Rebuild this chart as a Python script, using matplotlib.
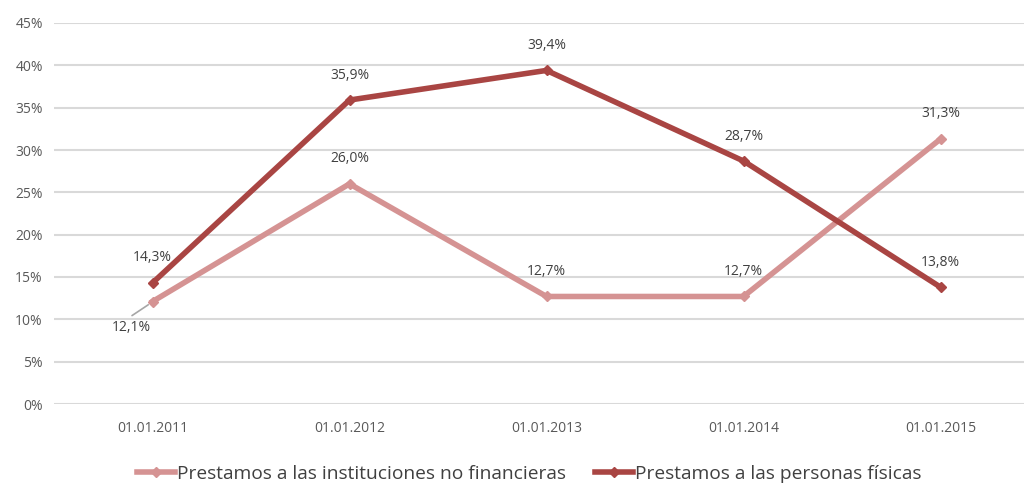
import matplotlib
matplotlib.use("Agg")
import matplotlib.pyplot as plt
from matplotlib.ticker import PercentFormatter

dates = ["01.01.2011", "01.01.2012", "01.01.2013", "01.01.2014", "01.01.2015"]
no_financieras = [12.1, 26.0, 12.7, 12.7, 31.3]
personas_fisicas = [14.3, 35.9, 39.4, 28.7, 13.8]
name_nf = "Prestamos a las instituciones no financieras"
name_pf = "Prestamos a las personas físicas"
yticks = [0, 5, 10, 15, 20, 25, 30, 35, 40, 45]

c_light = "#D59393"
c_dark = "#A94543"
txt = "#404040"

plt.rcParams['font.family'] = ['Open Sans', 'DejaVu Sans']

fig = plt.figure(figsize=(10.24, 4.86), dpi=100)
ax = fig.add_axes([54/1024, 82/486, 985/1024, 381/486])

x = list(range(len(dates)))
ax.plot(x, no_financieras, color=c_light, lw=4, marker="D", ms=5, label=name_nf, zorder=3)
ax.plot(x, personas_fisicas, color=c_dark, lw=4, marker="D", ms=5, label=name_pf, zorder=4)

def lab(v):
    return ("%.1f%%" % v).replace(".", ",")

for i, v in enumerate(personas_fisicas):
    ax.annotate(lab(v), (i, v), xytext=(0, 18), textcoords="offset points",
                ha="center", va="center", fontsize=10, color=txt)
for i, v in enumerate(no_financieras):
    if i == 0:
        # label below-left with leader line
        ax.annotate(lab(v), (i, v), xytext=(-15, -19), textcoords="offset points",
                    ha="center", va="center", fontsize=10, color=txt)
        ax.annotate("", (i - 0.01, v - 0.2), xytext=(-15, -10), textcoords="offset points",
                    arrowprops=dict(arrowstyle="-", color="#A6A6A6", lw=1.2))
    else:
        ax.annotate(lab(v), (i, v), xytext=(0, 18), textcoords="offset points",
                    ha="center", va="center", fontsize=10, color=txt)

ax.set_xlim(-0.5, 4.5)
ax.set_ylim(0, 45)
ax.set_yticks(yticks)
ax.yaxis.set_major_formatter(PercentFormatter(decimals=0))
ax.set_xticks(x)
ax.set_xticklabels(dates)
ax.tick_params(length=0, labelsize=10, colors="#595959", pad=8)
ax.tick_params(axis="x", pad=12)
ax.grid(axis="y", color="#D9D9D9", lw=1.5)
ax.set_axisbelow(True)
for s in ax.spines.values():
    s.set_visible(False)

leg = fig.legend(loc="center", bbox_to_anchor=(529/1024, 1 - 474/486), ncol=2, frameon=False,
                 handlelength=2.0, columnspacing=1.5, handletextpad=0.1,
                 prop={'family': ['Open Sans', 'DejaVu Sans'], 'size': 13.8})
for t in leg.get_texts():
    t.set_color(txt)

fig.savefig("out.png", dpi=100)
